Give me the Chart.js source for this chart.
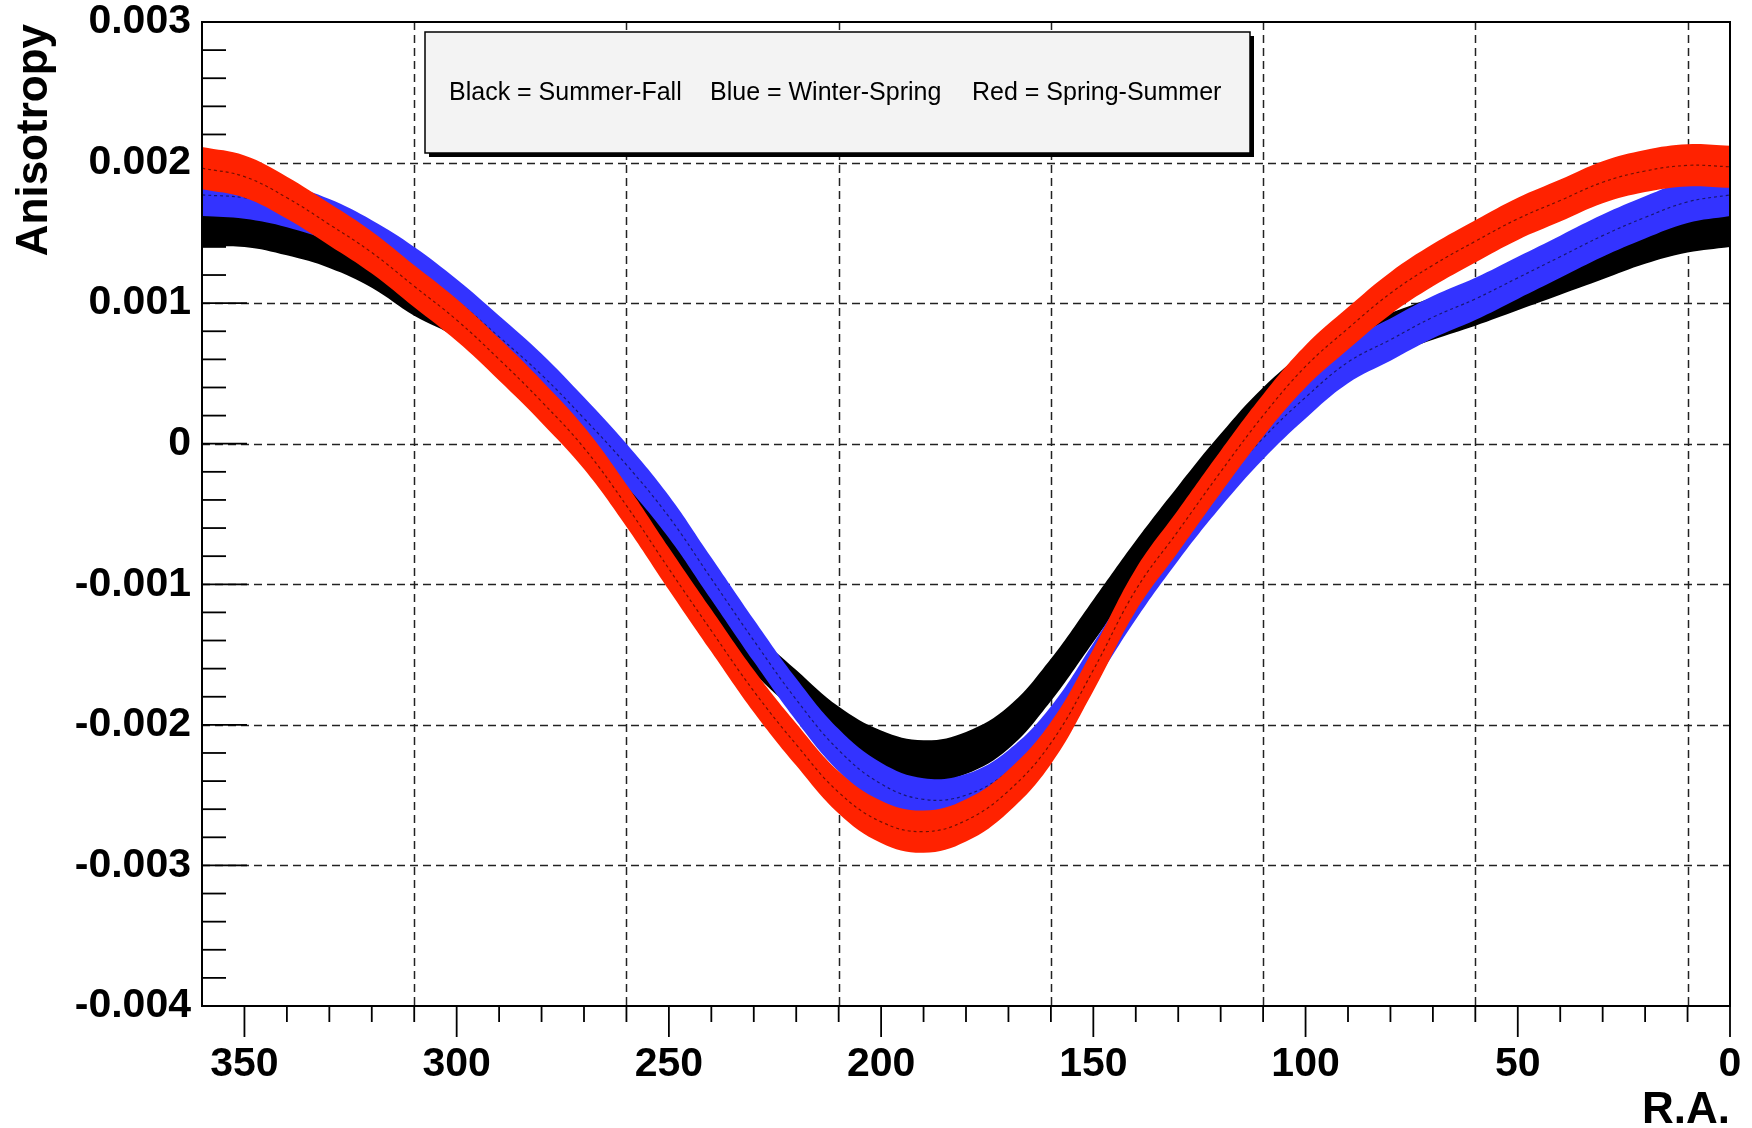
<!DOCTYPE html>
<html>
<head>
<meta charset="utf-8">
<title>Anisotropy vs R.A.</title>
<script src="https://cdn.jsdelivr.net/npm/chart.js@4.4.1/dist/chart.umd.min.js"></script>
<style>
  body { margin: 0; background: #fff; }
  #wrap { width: 1752px; height: 1128px; }
</style>
</head>
<body>
<div id="wrap"><canvas id="anisoChart" width="1752" height="1128"></canvas></div>
<script>
// R.A. of the sampled points (degrees), axis runs 360 -> 0
const raPoints = [360, 350, 340, 330, 320, 310, 300, 290, 280, 270, 260, 250, 240,
                  230, 220, 210, 200, 190, 180, 170, 160, 150, 140, 130, 120, 110,
                  100, 90, 80, 70, 60, 50, 40, 30, 20, 10, 0];

// central value of each seasonal curve
const blackSummerFall = [0.00155, 0.00155, 0.00149, 0.00140, 0.00126, 0.00106, 0.00090,
  0.00063, 0.00033, 0.00000, -0.00038, -0.00076, -0.00113, -0.00148, -0.00176,
  -0.00202, -0.00219, -0.00226, -0.00220, -0.00202, -0.00168, -0.00126, -0.00084,
  -0.00045, -0.00008, 0.00025, 0.00050, 0.00067, 0.00078, 0.00089, 0.00099,
  0.00110, 0.00121, 0.00132, 0.00143, 0.00151, 0.00155];

const blueWinterSpring = [0.00177, 0.00175, 0.00169, 0.00159, 0.00144, 0.00125, 0.00102,
  0.00076, 0.00049, 0.00018, -0.00015, -0.00052, -0.00096, -0.00140, -0.00182,
  -0.00218, -0.00242, -0.00253, -0.00250, -0.00233, -0.00202, -0.00157, -0.00110,
  -0.00068, -0.00030, 0.00004, 0.00033, 0.00058, 0.00074, 0.00090, 0.00103,
  0.00118, 0.00133, 0.00148, 0.00161, 0.00172, 0.00177];

const redSpringSummer = [0.00196, 0.00190, 0.00175, 0.00156, 0.00136, 0.00112, 0.00088,
  0.00060, 0.00030, -0.00003, -0.00044, -0.00089, -0.00133, -0.00176, -0.00214,
  -0.00248, -0.00269, -0.00276, -0.00268, -0.00247, -0.00213, -0.00161, -0.00104,
  -0.00062, -0.00020, 0.00020, 0.00055, 0.00082, 0.00107, 0.00127, 0.00144,
  0.00160, 0.00173, 0.00186, 0.00194, 0.00198, 0.00197];

// half width of the error band around each curve
const bandHalfWidth = 0.00015;

const xTickLabels = [350, 300, 250, 200, 150, 100, 50, 0];
const xGridLines = [310, 260, 210, 160, 110, 60, 10];
const yTickLabels = [0.003, 0.002, 0.001, 0, -0.001, -0.002, -0.003, -0.004];
const yGridLines = [0.002, 0.001, 0, -0.001, -0.002, -0.003];
const legendParts = ['Black = Summer-Fall', 'Blue = Winter-Spring', 'Red = Spring-Summer'];

const FONT = '"Liberation Sans", Arial, Helvetica, sans-serif';

// lower edge, upper edge (filled down to the lower edge) and the central line
function bandDatasets(values, color, order) {
    const lower = raPoints.map((ra, i) => ({ x: ra, y: values[i] - bandHalfWidth }));
    const upper = raPoints.map((ra, i) => ({ x: ra, y: values[i] + bandHalfWidth }));
    const center = raPoints.map((ra, i) => ({ x: ra, y: values[i] }));
    return [
        { data: lower, borderWidth: 0, borderColor: color, pointRadius: 0, fill: false, order: order + 1 },
        { data: upper, borderWidth: 0, borderColor: color, backgroundColor: color, pointRadius: 0, fill: '-1', order: order + 1 },
        { data: center, borderColor: 'rgba(0,0,0,0.55)', borderWidth: 1.2, borderDash: [3, 3], pointRadius: 0, fill: false, order: order }
    ];
}

// ROOT-like frame: dashed grid, inner ticks, titles and the text box
const rootFrame = {
    id: 'rootFrame',
    beforeDraw(chart) {
        const ctx = chart.ctx;
        ctx.save();
        ctx.fillStyle = '#fff';
        ctx.fillRect(0, 0, chart.width, chart.height);
        ctx.restore();
    },
    beforeDatasetsDraw(chart) {
        const { ctx, chartArea: a, scales: { x, y } } = chart;
        ctx.save();
        ctx.strokeStyle = '#222';
        ctx.lineWidth = 1.5;
        ctx.setLineDash([8, 5]);
        xGridLines.forEach(v => {
            const px = Math.round(x.getPixelForValue(v)) + 0.5;
            ctx.beginPath(); ctx.moveTo(px, a.top); ctx.lineTo(px, a.bottom); ctx.stroke();
        });
        yGridLines.forEach(v => {
            const py = Math.round(y.getPixelForValue(v)) + 0.5;
            ctx.beginPath(); ctx.moveTo(a.left, py); ctx.lineTo(a.right, py); ctx.stroke();
        });
        ctx.setLineDash([]);
        ctx.strokeStyle = '#000';
        ctx.lineWidth = 1.8;
        // x ticks every 10 deg, below the axis
        for (let v = 0; v < 360; v += 10) {
            const px = x.getPixelForValue(v);
            const len = v % 50 === 0 ? 31 : 16;
            ctx.beginPath(); ctx.moveTo(px, a.bottom); ctx.lineTo(px, a.bottom + len); ctx.stroke();
        }
        // y ticks every 0.0002, inside the frame
        for (let k = -20; k <= 15; k++) {
            const py = y.getPixelForValue(k * 0.0002);
            const len = k % 5 === 0 ? 45 : 24;
            ctx.beginPath(); ctx.moveTo(a.left, py); ctx.lineTo(a.left + len, py); ctx.stroke();
        }
        ctx.restore();
    },
    afterDatasetsDraw(chart) {
        const { ctx, chartArea: a } = chart;
        ctx.save();
        ctx.strokeStyle = '#000';
        ctx.lineWidth = 2;
        ctx.strokeRect(a.left, a.top, a.right - a.left, a.bottom - a.top);

        // axis titles
        ctx.fillStyle = '#000';
        ctx.font = 'bold 44px ' + FONT;
        ctx.textBaseline = 'alphabetic';
        ctx.textAlign = 'right';
        ctx.fillText('R.A.', a.right, 1123);
        ctx.save();
        ctx.translate(47, 24);
        ctx.rotate(-Math.PI / 2);
        ctx.fillText('Anisotropy', 0, 0);
        ctx.restore();

        // text box with shadow
        const bx = 425, by = 32, bw = 825, bh = 121;
        ctx.fillStyle = '#000';
        ctx.fillRect(bx + 4, by + 4, bw, bh);
        ctx.fillStyle = '#f3f3f3';
        ctx.fillRect(bx, by, bw, bh);
        ctx.lineWidth = 1.5;
        ctx.strokeRect(bx, by, bw, bh);
        ctx.fillStyle = '#000';
        ctx.font = '25px ' + FONT;
        ctx.textAlign = 'left';
        const starts = [449, 710, 972];
        legendParts.forEach((t, i) => ctx.fillText(t, starts[i], 100));
        ctx.restore();
    }
};

const ctx = document.getElementById('anisoChart').getContext('2d');
new Chart(ctx, {
    type: 'line',
    data: {
        datasets: [
            ...bandDatasets(redSpringSummer, '#ff2200', 0),
            ...bandDatasets(blueWinterSpring, '#3333ff', 2),
            ...bandDatasets(blackSummerFall, '#000000', 4)
        ]
    },
    options: {
        responsive: false,
        animation: false,
        devicePixelRatio: 1,
        layout: { padding: { top: 22, right: 22, left: 0, bottom: 0 } },
        elements: { line: { tension: 0.4 } },
        plugins: {
            legend: { display: false },
            tooltip: { enabled: false }
        },
        scales: {
            x: {
                type: 'linear',
                min: 0,
                max: 360,
                reverse: true,
                grid: { display: false, drawTicks: false },
                border: { display: false },
                afterBuildTicks: scale => { scale.ticks = xTickLabels.map(v => ({ value: v })); },
                afterFit: scale => {
                    scale.height = 122;
                    scale.paddingLeft = 0;
                    scale.paddingRight = 0;
                },
                ticks: {
                    autoSkip: false,
                    maxRotation: 0,
                    padding: 34,
                    color: '#000',
                    font: { family: FONT, size: 41, weight: 'bold' }
                }
            },
            y: {
                type: 'linear',
                min: -0.004,
                max: 0.003,
                grid: { display: false, drawTicks: false },
                border: { display: false },
                afterBuildTicks: scale => { scale.ticks = yTickLabels.map(v => ({ value: v })); },
                afterFit: scale => {
                    scale.width = 202;
                    scale.paddingTop = 0;
                    scale.paddingBottom = 0;
                },
                ticks: {
                    padding: 11,
                    color: '#000',
                    font: { family: FONT, size: 41, weight: 'bold' },
                    callback: v => (v === 0 ? '0' : v.toFixed(3))
                }
            }
        }
    },
    plugins: [rootFrame]
});
</script>
</body>
</html>
